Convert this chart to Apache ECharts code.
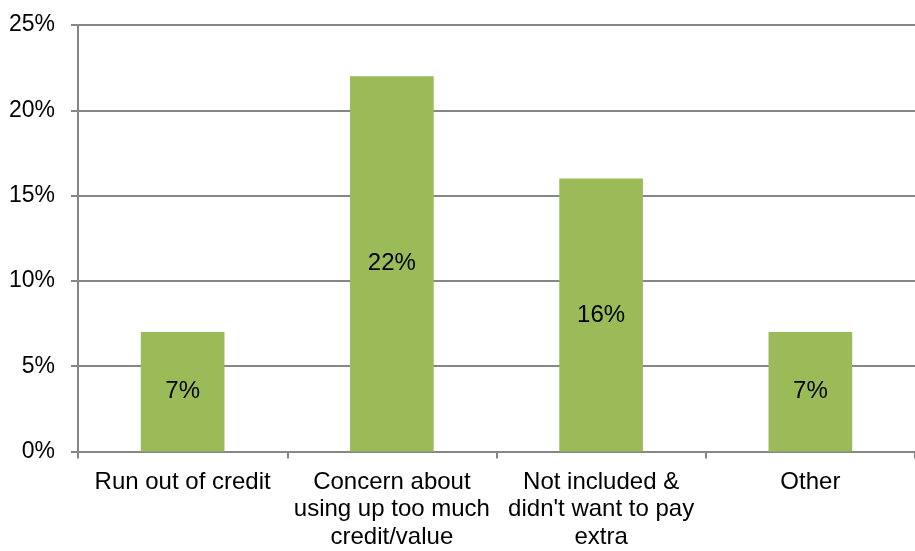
<!DOCTYPE html>
<html><head><meta charset="utf-8">
<script src="https://cdn.jsdelivr.net/npm/echarts@6/dist/echarts.min.js"></script>
<style>html,body{margin:0;padding:0;background:#fff}#c{width:915px;height:551px}</style>
</head><body><div id="c"></div>
<script>
var categories = ["Run out of credit", "Concern about\nusing up too much\ncredit/value", "Not included &\ndidn't want to pay\nextra", "Other"];
var values = [7, 22, 16, 7];
var yTicks = [0, 5, 10, 15, 20, 25];

var chart = echarts.init(document.getElementById('c'));
var font = '"Liberation Sans", Arial, sans-serif';
chart.setOption({
  animation: false,
  grid: {left: 78, width: 844, top: 25, bottom: 94, containLabel: false},
  xAxis: {
    type: 'category', data: categories,
    axisLine: {lineStyle: {color: '#868686', width: 2}},
    axisTick: {show: true, length: 7, lineStyle: {color: '#868686', width: 2}},
    axisLabel: {color: '#000', fontSize: 24, fontFamily: font, lineHeight: 27.5, margin: 17, interval: 0}
  },
  yAxis: {
    type: 'value', min: yTicks[0], max: yTicks[yTicks.length-1], interval: 5,
    axisLine: {show: true, lineStyle: {color: '#868686', width: 2}},
    axisTick: {show: true, length: 7, lineStyle: {color: '#868686', width: 2}},
    splitLine: {lineStyle: {color: '#868686', width: 2}},
    axisLabel: {color: '#000', fontSize: 23, fontFamily: font, margin: 23, formatter: '{value}%'}
  },
  series: [{
    type: 'bar', data: values, barWidth: '40%',
    itemStyle: {color: '#9BBB59'},
    label: {show: true, position: 'inside', color: '#000', fontSize: 24, fontFamily: font, formatter: '{c}%'}
  }]
});
</script></body></html>
